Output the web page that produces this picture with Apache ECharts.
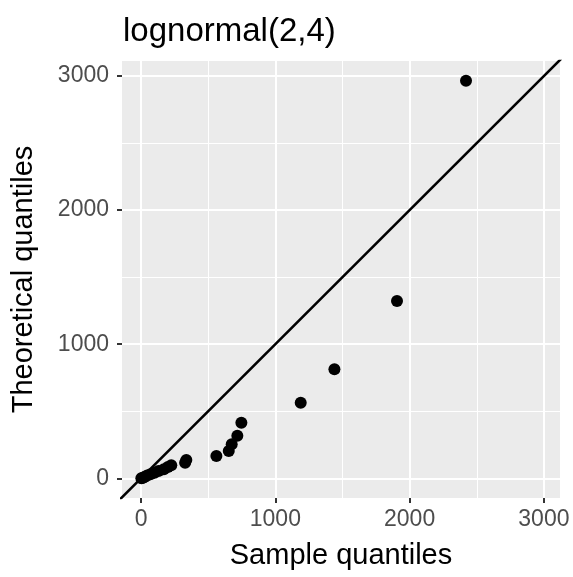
<!DOCTYPE html>
<html>
<head>
<meta charset="utf-8">
<script src="https://cdn.jsdelivr.net/npm/echarts@6/dist/echarts.min.js"></script>
<style>html,body{margin:0;padding:0;background:#fff}#c{width:573px;height:577px}</style>
</head>
<body>
<div id="c"></div>
<script>
var sampleQ = [2, 10, 25, 45, 70, 100, 130, 170, 200, 225, 328, 337, 561, 653, 675, 717, 747, 1189, 1440, 1906, 2420];
var theoQ   = [0, 3, 10, 20, 30, 42, 55, 68, 85, 97, 116, 136, 166, 204, 253, 318, 415, 564, 813, 1322, 2965];
var majorTicks = [0, 1000, 2000, 3000];
var minorTicks = [500, 1500, 2500];
var titleText = 'lognormal(2,4)';
var xTitle = 'Sample quantiles';
var yTitle = 'Theoretical quantiles';

var FONT = '"Liberation Sans", Arial, sans-serif';
var pts = sampleQ.map(function (v, i) { return [v, theoQ[i]]; });

var gridLines = [];
majorTicks.forEach(function (v) {
  gridLines.push({ xAxis: v, lineStyle: { width: 2 } });
  gridLines.push({ yAxis: v, lineStyle: { width: 2 } });
});
minorTicks.forEach(function (v) {
  gridLines.push({ xAxis: v, lineStyle: { width: 1 } });
  gridLines.push({ yAxis: v, lineStyle: { width: 1 } });
});

function plain(v) { return String(v); }

var chart = echarts.init(document.getElementById('c'), null, { renderer: 'canvas' });
chart.setOption({
  animation: false,
  backgroundColor: '#ffffff',
  title: {
    text: titleText, left: 118, top: 10,
    textStyle: { fontFamily: FONT, fontSize: 33, fontWeight: 'normal', color: '#000' }
  },
  grid: { left: 122, right: 13, top: 61, bottom: 79, show: true, backgroundColor: '#EBEBEB', borderWidth: 0, containLabel: false, outerBoundsMode: 'none' },
  xAxis: {
    type: 'value', min: -142, max: 3120,
    name: xTitle, nameLocation: 'middle', nameGap: 43,
    nameTextStyle: { fontFamily: FONT, fontSize: 29, color: '#000' },
    axisLine: { show: false, onZero: false },
    axisTick: { show: true, length: 5, lineStyle: { color: '#333', width: 2 }, customValues: majorTicks },
    axisLabel: { customValues: majorTicks, formatter: plain, margin: 10, fontFamily: FONT, fontSize: 23, color: '#4D4D4D' },
    splitLine: { show: false }
  },
  yAxis: {
    type: 'value', min: -147, max: 3112,
    name: yTitle, nameLocation: 'middle', nameGap: 84, nameRotate: 90,
    nameTextStyle: { fontFamily: FONT, fontSize: 29, color: '#000' },
    axisLine: { show: false, onZero: false },
    axisTick: { show: true, length: 5, lineStyle: { color: '#333', width: 2 }, customValues: majorTicks },
    axisLabel: { customValues: majorTicks, formatter: plain, margin: 13, fontFamily: FONT, fontSize: 23, color: '#4D4D4D' },
    splitLine: { show: false }
  },
  series: [
    {
      type: 'scatter', data: [], z: 0, silent: true,
      markLine: {
        silent: true, symbol: 'none', label: { show: false }, animation: false, z: 0,
        lineStyle: { color: '#ffffff', type: 'solid' },
        data: gridLines
      }
    },
    {
      type: 'line', data: [[-300, -300], [3400, 3400]], z: 3, clip: true,
      symbol: 'none', lineStyle: { color: '#000', width: 2.5 }, silent: true
    },
    {
      type: 'scatter', data: pts, z: 4, symbolSize: 12,
      itemStyle: { color: '#000', opacity: 1 }
    }
  ]
});
</script>
</body>
</html>
